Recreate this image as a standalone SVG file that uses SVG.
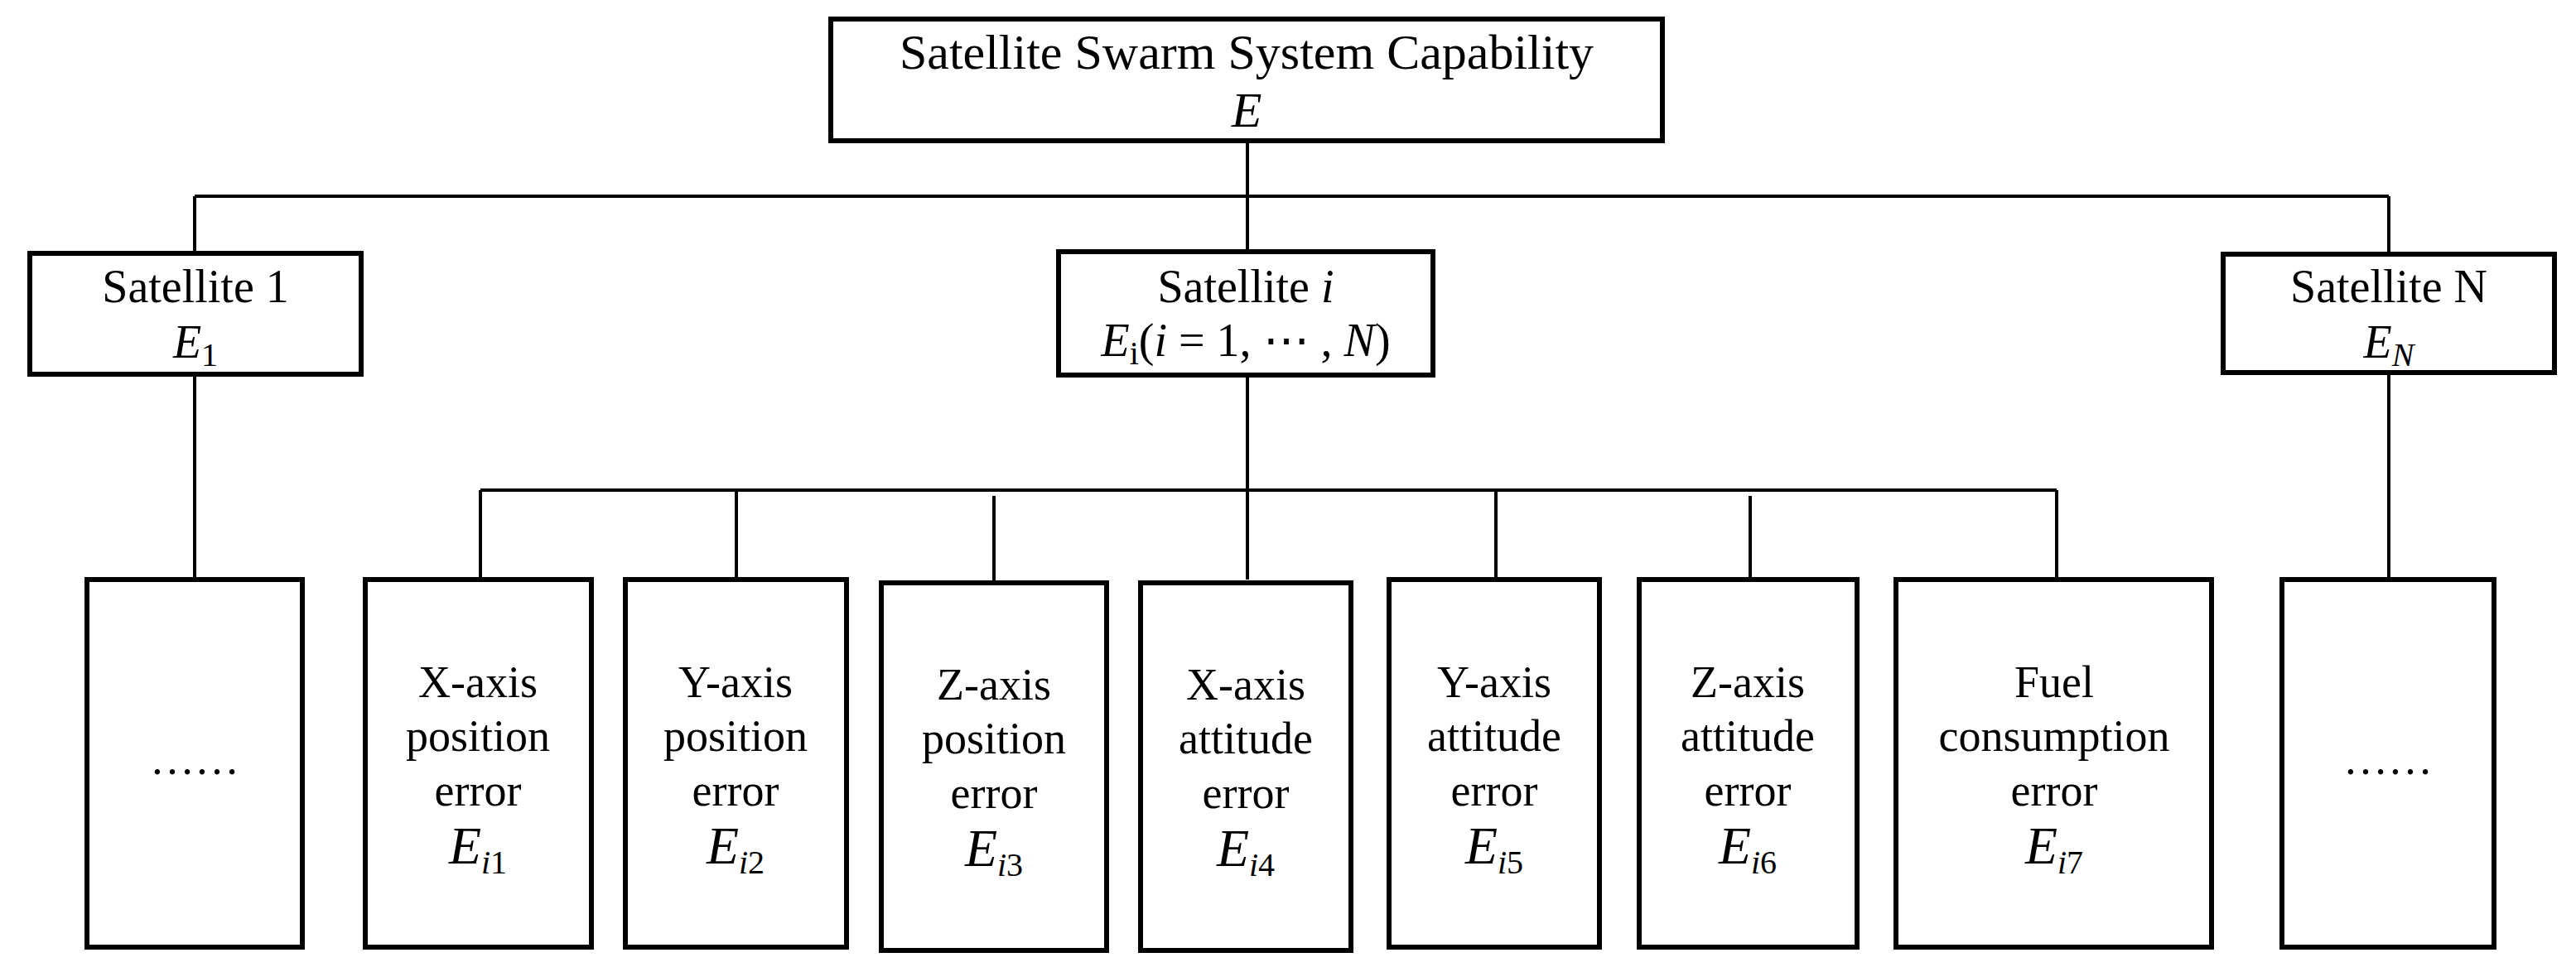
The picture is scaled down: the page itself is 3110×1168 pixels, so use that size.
<svg xmlns="http://www.w3.org/2000/svg" width="3110" height="1168" viewBox="0 0 3110 1168" font-family="'Liberation Serif', 'Times New Roman', 'DejaVu Serif', serif">
<style>
.box{fill:#fff;stroke:#000;stroke-width:6}
.ln{fill:none;stroke:#000;stroke-width:4}
text{font-family:'Liberation Serif','Times New Roman','DejaVu Serif',serif;fill:#000;text-anchor:middle}
.t1{font-size:60px}
.t2{font-size:56px}
.t3{font-size:54px}
.m{font-style:italic}
.e{font-size:64px}
.s{font-size:40px}
</style>
<rect width="3110" height="1168" fill="#fff"/>
<g id="connectors">
<path class="ln" d="M1506 170V304M235 237H2884M235 237V306M2884 237V307M235 452V700M2884 450V700M1506 453V700M580 592H2483M580 592V700M889 592V700M1200 599V704M1806 592V700M2113 599V700M2483 592V700"/>
</g>
<g id="root"><rect class="box" x="1003" y="23" width="1004" height="147"/>
<text class="t1" x="1505" y="83">Satellite Swarm System Capability</text>
<text class="t1 m" x="1505" y="153">E</text></g>
<g id="sat1"><rect class="box" x="36" y="306" width="400" height="146"/>
<text class="t2" x="236" y="365">Satellite 1</text>
<text class="t2" x="236" y="432"><tspan class="m">E</tspan><tspan class="s" dy="10">1</tspan></text></g>
<g id="sati"><rect class="box" x="1278" y="304" width="452" height="149"/>
<text class="t2" x="1504" y="365">Satellite <tspan class="m">i</tspan></text>
<text class="t2" x="1504" y="430"><tspan class="m">E</tspan><tspan class="s" dy="10">i</tspan><tspan dy="-10">(</tspan><tspan class="m">i</tspan> = 1, ⋯ , <tspan class="m">N</tspan>)</text></g>
<g id="satN"><rect class="box" x="2684" y="307" width="400" height="143"/>
<text class="t2" x="2884" y="365">Satellite N</text>
<text class="t2" x="2884" y="432"><tspan class="m">E</tspan><tspan class="s m" dy="10">N</tspan></text></g>
<g id="ell1"><rect class="box" x="105" y="700" width="260" height="444"/>
<text class="t3" x="235" y="935">……</text></g>
<g id="e1"><rect class="box" x="441" y="700" width="273" height="444"/>
<text class="t3" x="577" y="842">X-axis</text><text class="t3" x="577" y="907">position</text><text class="t3" x="577" y="973">error</text>
<text class="e" x="577" y="1043"><tspan class="m">E</tspan><tspan class="s" dy="12"><tspan class="m">i</tspan>1</tspan></text></g>
<g id="e2"><rect class="box" x="755" y="700" width="267" height="444"/>
<text class="t3" x="888" y="842">Y-axis</text><text class="t3" x="888" y="907">position</text><text class="t3" x="888" y="973">error</text>
<text class="e" x="888" y="1043"><tspan class="m">E</tspan><tspan class="s" dy="12"><tspan class="m">i</tspan>2</tspan></text></g>
<g id="e3"><rect class="box" x="1064" y="704" width="272" height="444"/>
<text class="t3" x="1200" y="845">Z-axis</text><text class="t3" x="1200" y="910">position</text><text class="t3" x="1200" y="976">error</text>
<text class="e" x="1200" y="1046"><tspan class="m">E</tspan><tspan class="s" dy="12"><tspan class="m">i</tspan>3</tspan></text></g>
<g id="e4"><rect class="box" x="1377" y="704" width="254" height="444"/>
<text class="t3" x="1504" y="845">X-axis</text><text class="t3" x="1504" y="910">attitude</text><text class="t3" x="1504" y="976">error</text>
<text class="e" x="1504" y="1046"><tspan class="m">E</tspan><tspan class="s" dy="12"><tspan class="m">i</tspan>4</tspan></text></g>
<g id="e5"><rect class="box" x="1677" y="700" width="254" height="444"/>
<text class="t3" x="1804" y="842">Y-axis</text><text class="t3" x="1804" y="907">attitude</text><text class="t3" x="1804" y="973">error</text>
<text class="e" x="1804" y="1043"><tspan class="m">E</tspan><tspan class="s" dy="12"><tspan class="m">i</tspan>5</tspan></text></g>
<g id="e6"><rect class="box" x="1979" y="700" width="263" height="444"/>
<text class="t3" x="2110" y="842">Z-axis</text><text class="t3" x="2110" y="907">attitude</text><text class="t3" x="2110" y="973">error</text>
<text class="e" x="2110" y="1043"><tspan class="m">E</tspan><tspan class="s" dy="12"><tspan class="m">i</tspan>6</tspan></text></g>
<g id="e7"><rect class="box" x="2289" y="700" width="381" height="444"/>
<text class="t3" x="2480" y="842">Fuel</text><text class="t3" x="2480" y="907">consumption</text><text class="t3" x="2480" y="973">error</text>
<text class="e" x="2480" y="1043"><tspan class="m">E</tspan><tspan class="s" dy="12"><tspan class="m">i</tspan>7</tspan></text></g>
<g id="ellN"><rect class="box" x="2755" y="700" width="256" height="444"/>
<text class="t3" x="2883" y="935">……</text></g>
</svg>
